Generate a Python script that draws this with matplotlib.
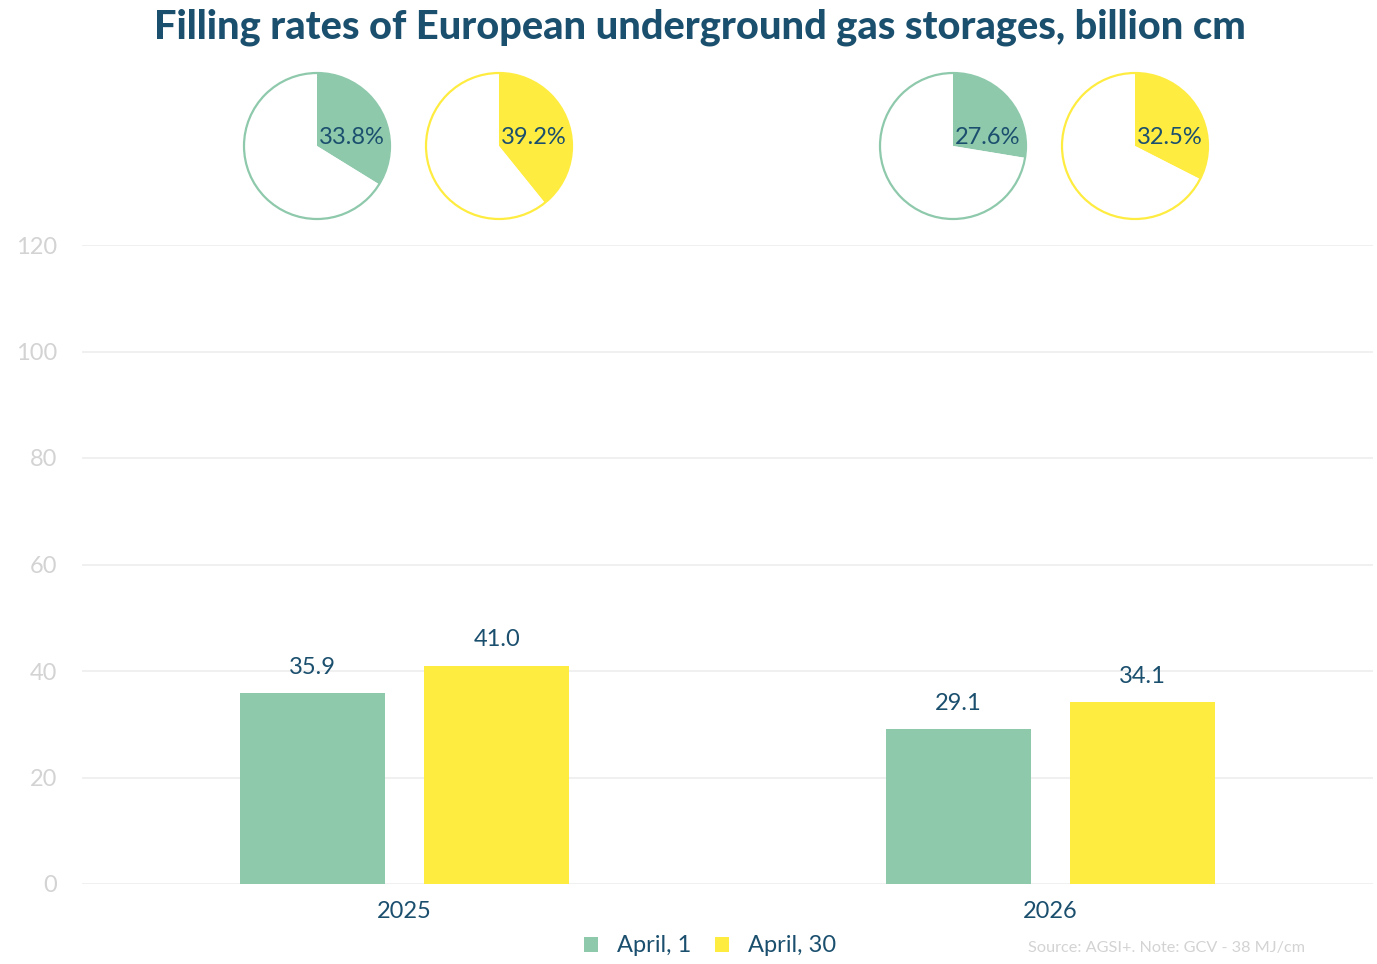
import matplotlib
matplotlib.use('Agg')
import matplotlib.pyplot as plt
import numpy as np

plt.rcParams['font.family'] = ['Lato', 'DejaVu Sans']

# data
years = ['2025', '2026']
series = ['April, 1', 'April, 30']
april_1 = [35.9, 29.1]
april_30 = [41.0, 34.1]
fill_1 = [33.8, 27.6]
fill_30 = [39.2, 32.5]

green = '#8ec9ac'
yellow = '#ffec40'
dark = '#1b4f6e'
light = '#d3d3d3'

W, H = 1377, 964
fig = plt.figure(figsize=(W / 100, H / 100), dpi=100)

# main bar axes
ax = fig.add_axes([82 / W, 1 - 884 / H, (1373 - 82) / W, (884 - 245) / H])
x = np.arange(len(years))
bw = 0.225
off = 0.1425
b1 = ax.bar(x - off, april_1, bw, color=green, label=series[0], zorder=3)
b2 = ax.bar(x + off, april_30, bw, color=yellow, label=series[1], zorder=3)
for bars in (b1, b2):
    ax.bar_label(bars, fmt='%.1f', padding=11, color=dark, fontsize=17)

ax.set_xlim(-0.5, 1.5)
ax.set_ylim(0, 120)
ax.set_yticks(range(0, 121, 20))
ax.grid(axis='y', color='#ededed', lw=1.2, zorder=0)
ax.set_axisbelow(True)
for s in ax.spines.values():
    s.set_visible(False)
ax.tick_params(axis='y', length=0, labelsize=17, labelcolor=light, pad=18)
ax.tick_params(axis='x', length=0, labelsize=17, labelcolor=dark, pad=12)
ax.set_xticks(x)
ax.set_xticklabels(years)

# pies on top
pie_x = [317, 499, 953, 1135]
pie_vals = [fill_1[0], fill_30[0], fill_1[1], fill_30[1]]
pie_cols = [green, yellow, green, yellow]
size = 152
for cx, v, c in zip(pie_x, pie_vals, pie_cols):
    pa = fig.add_axes([(cx - size / 2) / W, 1 - (146 + size / 2) / H, size / W, size / H])
    pa.pie([v, 100 - v], colors=[c, 'white'], startangle=90, counterclock=False,
           radius=73 / 76)
    circ = plt.Circle((0, 0), 73 / 76, fill=False, ec=c, lw=1.6)
    pa.add_patch(circ)
    pa.text(0.03, 0.02, f'{v:.1f}%', ha='left', va='baseline', color=dark, fontsize=17)
    pa.set_xlim(-1, 1)
    pa.set_ylim(-1, 1)
    pa.set_aspect('equal')
    pa.axis('off')

fig.text(0.508, 1 - 27 / H, 'Filling rates of European underground gas storages, billion cm',
         ha='center', va='center', fontsize=28.6, fontweight='black', color=dark)

fig.legend(handles=[b1, b2], labels=series, loc='center', bbox_to_anchor=(710 / W, 1 - 946 / H),
           ncol=2, frameon=False, fontsize=17, labelcolor=dark, handlelength=0.6,
           handleheight=0.6, handletextpad=0.8, columnspacing=1.0)

fig.text(1028 / W, 1 - 948 / H, 'Source: AGSI+. Note: GCV - 38 MJ/cm', ha='left', va='center',
         fontsize=11.7, color=light)

fig.savefig('out.png', dpi=100, facecolor='white')
